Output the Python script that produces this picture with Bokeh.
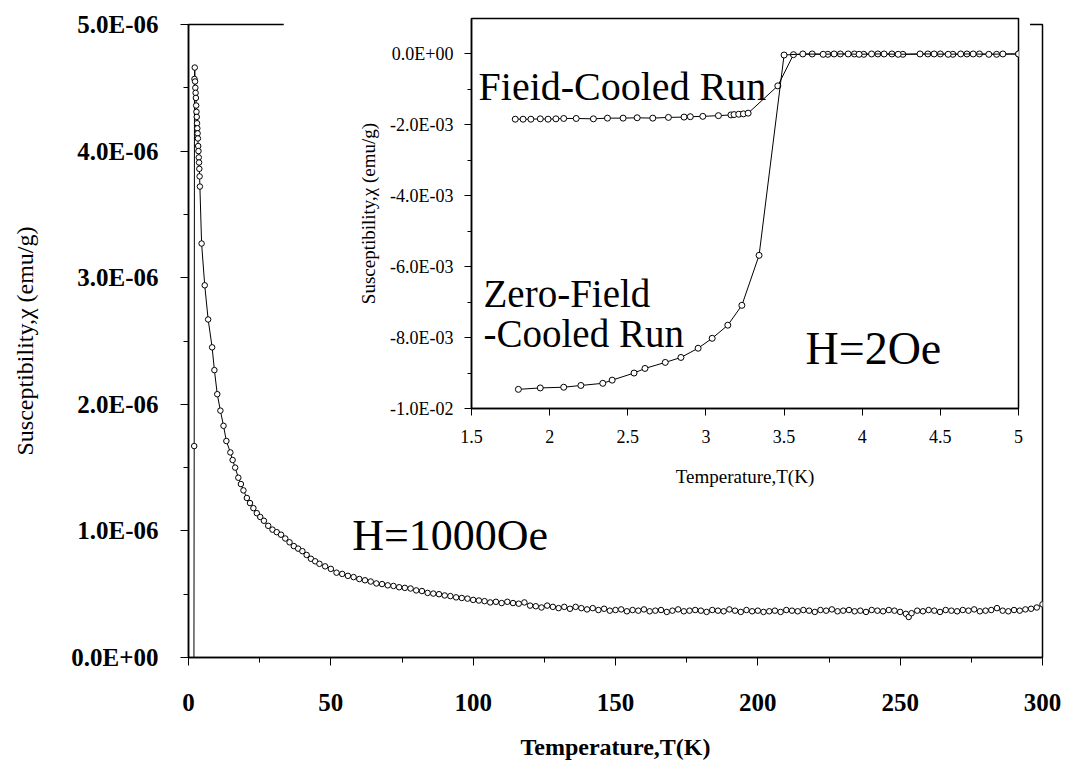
from bokeh.plotting import figure
from bokeh.models import Range1d, FixedTicker, CustomJSTickFormatter, Label
from bokeh.layouts import column
from bokeh.embed import file_html
from bokeh.resources import INLINE

# ---------------- data: main panel (H = 1000 Oe) ----------------
main_T = [1.8, 2.0, 2.1, 2.2, 2.3, 2.4, 2.5, 2.6, 2.7, 2.8, 2.9, 3.0, 3.1, 3.2, 3.3, 3.4, 3.5, 3.6, 3.7, 3.8, 3.9, 4.0,
          4.6, 5.7, 6.9, 8.3, 9.1, 10.1, 11.2, 12.3, 13.3, 14.7, 15.5, 16.4, 17.5, 18.4, 19.3, 20.5, 21.6, 22.8,
          24.0, 25.2, 26.5, 28.0, 29.5, 31.0, 32.5, 34.0, 35.5, 37.0, 38.5, 40.0, 41.5, 43.0, 44.5, 46.0, 48.0, 50.0,
          52, 54, 56, 58, 60, 62, 64, 66, 68, 70, 72, 74, 76, 78, 80, 82, 84, 86, 88, 90, 92, 94, 96, 98, 100,
          102, 104, 106, 108, 110, 112, 114, 116, 118, 120, 122, 124, 126, 128, 130, 132, 134, 136, 138,
          140, 142, 144, 146, 148, 150, 152, 154, 156, 158, 160, 162, 164, 166, 168, 170, 172, 174, 176, 178,
          180, 182, 184, 186, 188, 190, 192, 194, 196, 198, 200, 202, 204, 206, 208, 210, 212, 214, 216, 218,
          220, 222, 224, 226, 228, 230, 232, 234, 236, 238, 240, 242, 244, 246, 248, 250, 252, 253, 254, 256,
          258, 260, 262, 264, 266, 268, 270, 272, 274, 276, 278, 280, 282, 284, 286, 288, 290, 292, 294, 296,
          298, 300]
# susceptibility in units of 1E-06 emu/g (first point is far below the axis)
main_chi_micro = [-2.0, 1.67, 4.57, 4.66, 4.55, 4.50, 4.46, 4.42, 4.36, 4.31, 4.27, 4.22, 4.18, 4.14, 4.10, 4.04, 4.00, 3.95, 3.91, 3.86, 3.80, 3.72,
                  3.27, 2.94, 2.67, 2.45, 2.27, 2.08, 1.95, 1.83, 1.71, 1.62, 1.56, 1.50, 1.42, 1.37, 1.32, 1.26, 1.22, 1.18,
                  1.14, 1.11, 1.08, 1.04, 1.01, 0.99, 0.97, 0.94, 0.91, 0.88, 0.86, 0.84, 0.81, 0.78, 0.76, 0.74, 0.72, 0.70,
                  0.67, 0.66, 0.645, 0.635, 0.62, 0.61, 0.60, 0.585, 0.58, 0.57, 0.565, 0.555, 0.55, 0.545, 0.53, 0.525, 0.51, 0.505, 0.50, 0.49, 0.485, 0.475, 0.47, 0.465, 0.455,
                  0.45, 0.445, 0.435, 0.44, 0.43, 0.44, 0.43, 0.425, 0.435, 0.41, 0.405, 0.395, 0.41, 0.40, 0.39, 0.40, 0.385, 0.40, 0.39,
                  0.38, 0.39, 0.375, 0.385, 0.37, 0.375, 0.38, 0.365, 0.375, 0.37, 0.38, 0.365, 0.37, 0.375, 0.36, 0.37, 0.38, 0.365, 0.37, 0.375,
                  0.37, 0.36, 0.375, 0.37, 0.365, 0.38, 0.37, 0.36, 0.375, 0.365, 0.37, 0.36, 0.365, 0.37, 0.36, 0.375, 0.37, 0.365, 0.375, 0.37,
                  0.36, 0.375, 0.37, 0.38, 0.365, 0.37, 0.375, 0.365, 0.37, 0.36, 0.375, 0.37, 0.365, 0.375, 0.37, 0.36, 0.345, 0.32, 0.35, 0.37,
                  0.365, 0.375, 0.37, 0.36, 0.375, 0.37, 0.365, 0.375, 0.37, 0.38, 0.365, 0.37, 0.375, 0.39, 0.37, 0.365, 0.375, 0.37, 0.38, 0.385,
                  0.395, 0.42]
main_chi = [v * 1e-6 for v in main_chi_micro]

main_xticks = [0, 50, 100, 150, 200, 250, 300]
main_yticks = [0.0, 1e-6, 2e-6, 3e-6, 4e-6, 5e-6]
main_yminor = [0.5e-6, 1.5e-6, 2.5e-6, 3.5e-6, 4.5e-6]
main_xminor = [25, 75, 125, 175, 225, 275]

# ---------------- data: inset (H = 2 Oe) ----------------
zfc_T = [1.80, 1.94, 2.09, 2.20, 2.34, 2.40, 2.54, 2.61, 2.74, 2.84, 2.95, 3.04, 3.14, 3.23, 3.34,
         3.50, 3.62, 3.75, 3.82, 3.91, 3.98, 4.06, 4.14, 4.23, 4.37, 4.46, 4.55, 4.63, 4.71, 4.81, 4.90, 5.00]
zfc_chi_milli = [-9.46, -9.42, -9.40, -9.35, -9.29, -9.20, -9.00, -8.87, -8.70, -8.56, -8.30, -8.02, -7.65, -7.09, -5.68,
                 -0.03, 0.0, -0.01, 0.0, 0.0, -0.01, 0.0, 0.0, -0.01, 0.0, 0.0, -0.01, 0.0, 0.0, -0.01, 0.0, 0.0]
fc_T = [1.78, 1.83, 1.88, 1.94, 1.99, 2.04, 2.09, 2.17, 2.28, 2.37, 2.47, 2.56, 2.66, 2.76, 2.86, 2.90, 2.98,
        3.08, 3.16, 3.18, 3.21, 3.24, 3.27, 3.46,
        3.56, 3.68, 3.78, 3.86, 3.95, 4.01, 4.10, 4.19, 4.26, 4.42, 4.50, 4.58, 4.67, 4.75, 4.86, 5.00]
fc_chi_milli = [-1.84, -1.84, -1.84, -1.83, -1.84, -1.83, -1.82, -1.82, -1.83, -1.81, -1.81, -1.80, -1.81, -1.79, -1.78, -1.77, -1.76,
                -1.74, -1.72, -1.71, -1.70, -1.69, -1.67, -0.90,
                -0.02, 0.0, -0.01, 0.0, 0.0, -0.01, 0.0, 0.0, -0.01, 0.0, 0.0, -0.01, 0.0, 0.0, -0.01, 0.0]
zfc_chi = [v * 1e-3 for v in zfc_chi_milli]
fc_chi = [v * 1e-3 for v in fc_chi_milli]

inset_xticks = [1.5, 2.0, 2.5, 3.0, 3.5, 4.0, 4.5, 5.0]
inset_yticks = [-0.01, -0.008, -0.006, -0.004, -0.002, 0.0]
inset_yminor = [-0.009, -0.007, -0.005, -0.003, -0.001]

SERIF = "Liberation Serif"

sci_fmt = CustomJSTickFormatter(code="""
const s = tick.toExponential(1).toUpperCase();
const i = s.indexOf("E");
const mant = s.slice(0, i);
const sign = s[i + 1];
let ex = s.slice(i + 2);
if (ex.length < 2) { ex = "0" + ex; }
return mant + "E" + sign + ex;
""")
plain_fmt = CustomJSTickFormatter(code="return String(tick);")

# ---------------- main figure ----------------
p = figure(frame_width=854, frame_height=633, output_backend="svg", toolbar_location=None,
           x_range=Range1d(0, 300), y_range=Range1d(0, 5e-6),
           min_border_left=187, min_border_right=24, min_border_top=24, min_border_bottom=105)
p.background_fill_color = "white"
p.border_fill_color = "white"
p.outline_line_color = "black"
p.outline_line_width = 1.5
p.grid.visible = False

p.line(main_T, main_chi, line_color="black", line_width=1)
p.scatter(main_T, main_chi, marker="circle", size=5.5, fill_color="white", line_color="black", line_width=1)

p.xaxis.ticker = FixedTicker(ticks=main_xticks, minor_ticks=main_xminor)
p.yaxis.ticker = FixedTicker(ticks=main_yticks, minor_ticks=main_yminor)
p.yaxis.formatter = sci_fmt
for ax in (p.xaxis[0], p.yaxis[0]):
    ax.axis_line_color = "black"
    ax.axis_line_width = 1.5
    ax.major_tick_line_color = "black"
    ax.minor_tick_line_color = "black"
    ax.major_tick_out = 8
    ax.major_tick_in = 0
    ax.minor_tick_out = 5
    ax.minor_tick_in = 0
    ax.major_label_text_font = SERIF
    ax.major_label_text_font_style = "bold"
    ax.major_label_text_font_size = "25px"
    ax.major_label_text_color = "black"
    ax.axis_label_text_font = SERIF
    ax.axis_label_text_font_style = "normal"
    ax.axis_label_text_color = "black"
p.xaxis.major_label_standoff = 28
p.yaxis.major_label_standoff = 22
p.xaxis.axis_label = "Temperature,T(K)"
p.xaxis.axis_label_text_font_size = "24px"
p.xaxis.axis_label_text_font_style = "bold"
p.xaxis.axis_label_standoff = 20
p.yaxis.axis_label = "Susceptibility,χ (emu/g)"
p.yaxis.axis_label_text_font_size = "24px"
p.yaxis.axis_label_standoff = 30

p.add_layout(Label(x=57.5, y=0.96e-6, text="H=1000Oe", text_font=SERIF, text_font_size="44px",
                   text_color="black", text_baseline="middle", text_align="left"))

# ---------------- inset figure ----------------
q = figure(frame_width=547, frame_height=390, output_backend="svg", toolbar_location=None,
           x_range=Range1d(1.5, 5.0), y_range=Range1d(-0.01, 0.001),
           min_border_left=188, min_border_right=12, min_border_top=18, min_border_bottom=82)
q.background_fill_color = "white"
q.border_fill_color = "white"
q.outline_line_color = "black"
q.outline_line_width = 1.5
q.grid.visible = False

q.line(fc_T, fc_chi, line_color="black", line_width=1)
q.scatter(fc_T, fc_chi, marker="circle", size=6, fill_color="white", line_color="black", line_width=1)
q.line(zfc_T, zfc_chi, line_color="black", line_width=1)
q.scatter(zfc_T, zfc_chi, marker="circle", size=6, fill_color="white", line_color="black", line_width=1)

q.xaxis.ticker = FixedTicker(ticks=inset_xticks, minor_ticks=[])
q.yaxis.ticker = FixedTicker(ticks=inset_yticks, minor_ticks=inset_yminor)
q.xaxis.formatter = plain_fmt
q.yaxis.formatter = sci_fmt
for ax in (q.xaxis[0], q.yaxis[0]):
    ax.axis_line_color = "black"
    ax.axis_line_width = 1.5
    ax.major_tick_line_color = "black"
    ax.minor_tick_line_color = "black"
    ax.major_tick_out = 7
    ax.major_tick_in = 0
    ax.minor_tick_out = 4
    ax.minor_tick_in = 0
    ax.major_label_text_font = SERIF
    ax.major_label_text_font_style = "normal"
    ax.major_label_text_font_size = "18px"
    ax.major_label_text_color = "black"
    ax.axis_label_text_font = SERIF
    ax.axis_label_text_font_style = "normal"
    ax.axis_label_text_color = "black"
q.xaxis.major_label_standoff = 14
q.yaxis.major_label_standoff = 11
q.xaxis.axis_label = "Temperature,T(K)"
q.xaxis.axis_label_text_font_size = "19px"
q.xaxis.axis_label_standoff = 20
q.yaxis.axis_label = "Susceptibility,χ (emu/g)"
q.yaxis.axis_label_text_font_size = "19px"
q.yaxis.axis_label_standoff = 8

q.add_layout(Label(x=1.545, y=-0.93e-3, text="Fieid-Cooled Run", text_font=SERIF, text_font_size="40px",
                   text_color="black", text_baseline="middle", text_align="left"))
q.add_layout(Label(x=1.577, y=-6.75e-3, text="Zero-Field", text_font=SERIF, text_font_size="39px",
                   text_color="black", text_baseline="middle", text_align="left"))
q.add_layout(Label(x=1.577, y=-7.88e-3, text="-Cooled Run", text_font=SERIF, text_font_size="39px",
                   text_color="black", text_baseline="middle", text_align="left"))
q.add_layout(Label(x=3.637, y=-8.3e-3, text="H=2Oe", text_font=SERIF, text_font_size="46px",
                   text_color="black", text_baseline="middle", text_align="left"))

q.styles = {"position": "absolute", "left": "283px", "top": "0px", "z-index": "10"}

layout = column(p, q)
open("out.html", "w").write(file_html(layout, INLINE))
